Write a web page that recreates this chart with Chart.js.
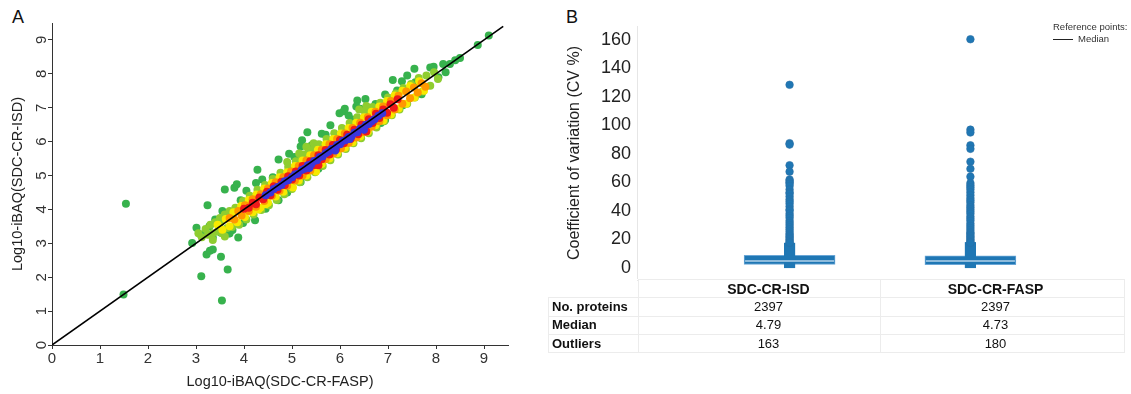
<!DOCTYPE html>
<html>
<head>
<meta charset="utf-8">
<script src="https://cdn.jsdelivr.net/npm/chart.js@4.4.1/dist/chart.umd.min.js"></script>
<style>
  html, body { margin:0; padding:0; background:#fff; }
  body { width:1131px; height:394px; position:relative; overflow:hidden; font-family:'Liberation Sans', Arial, sans-serif; color:#111; }
  #wrapA { position:absolute; left:0; top:0; width:520px; height:394px; }
  #wrapB { position:absolute; left:540px; top:0; width:591px; height:300px; }
  .panel { position:absolute; font-size:18px; color:#111; }
  #legend { position:absolute; left:1053px; top:21px; font-size:9.5px; color:#333; line-height:12px; }
  #legend .ln { display:inline-block; width:20px; height:0; border-top:1px solid #222; vertical-align:middle; margin-right:5px; }
  #tbl { position:absolute; left:548px; top:279px; border-collapse:collapse; font-size:13px; color:#111; }
  #tbl td { border:1px solid #ececec; height:17.3px; padding:0; line-height:16px; }
  #tbl td.lab { font-weight:bold; padding-left:3px; width:86px; }
  #tbl td.c0 { width:242px; text-align:center; padding-left:18px; box-sizing:border-box; }
  #tbl td.c1 { width:244px; text-align:center; padding-right:14px; box-sizing:border-box; }
  #tbl tr.hd td { font-weight:bold; font-size:14px; }
  #tbl tr.hd td.lab { border-top-color:#fff; border-left-color:#fff; }
</style>
</head>
<body>
<div class="panel" style="left:12px;top:7px;">A</div>
<div class="panel" style="left:566px;top:7px;">B</div>
<div id="wrapA"><canvas id="cA"></canvas></div>
<div id="wrapB"><canvas id="cB"></canvas></div>
<div id="legend">Reference points:<br><span class="ln"></span>Median</div>
<table id="tbl"></table>
<script>
// ---------------- Panel A data (log10 iBAQ: x = SDC-CR-FASP, y = SDC-CR-ISD) ----------------
const xTicksA = [0,1,2,3,4,5,6,7,8,9];
const yTicksA = [0,1,2,3,4,5,6,7,8,9];
const identityLine = [0, 9.4];

const blueData = [[4.45,4.42],[4.55,4.50],[4.62,4.60],[4.70,4.66],[4.78,4.72],[4.85,4.83],[4.92,4.86],[5.00,4.95],[5.06,5.03],[5.12,5.05],[5.20,5.16],[5.26,5.20],[5.33,5.30],[5.40,5.33],[5.46,5.43],[5.52,5.45],[5.58,5.55],[5.64,5.57],[5.70,5.66],[5.76,5.70],[5.82,5.78],[5.88,5.80],[5.94,5.90],[6.00,5.92],[6.06,6.02],[6.12,6.05],[6.18,6.14],[6.24,6.16],[6.30,6.26],[6.36,6.28],[6.42,6.38],[6.48,6.40],[6.54,6.50],[6.60,6.52],[6.66,6.60],[6.72,6.66],[6.80,6.76],[6.88,6.84],[5.36,5.22],[6.20,6.08],[6.50,6.35],[5.90,5.74]];

const redData = [[4.00,4.02],[4.10,4.05],[4.18,4.20],[4.25,4.15],[4.32,4.35],[4.40,4.30],[4.48,4.52],[4.55,4.42],[4.62,4.68],[4.70,4.58],[4.78,4.82],[4.85,4.72],[4.92,4.98],[5.00,4.88],[5.08,5.12],[5.15,5.00],[5.22,5.28],[5.30,5.15],[5.38,5.42],[5.45,5.30],[5.52,5.40],[5.55,5.60],[5.62,5.48],[5.70,5.75],[5.78,5.62],[5.85,5.90],[5.92,5.78],[6.00,6.05],[6.08,5.95],[6.15,6.20],[6.22,6.08],[6.30,6.35],[6.38,6.22],[6.45,6.50],[6.52,6.38],[6.60,6.66],[6.68,6.55],[6.75,6.82],[6.82,6.70],[6.90,6.95],[6.98,6.85],[7.05,7.10],[7.12,7.00],[7.20,7.25],[5.55,5.30],[6.55,6.30]];

const orangeData = [[3.70,3.75],[3.80,3.70],[3.88,3.95],[3.95,3.82],[4.02,4.12],[4.10,3.95],[4.18,4.30],[4.25,4.08],[4.35,4.45],[4.42,4.25],[4.50,4.62],[4.58,4.40],[4.66,4.80],[4.74,4.55],[4.82,4.95],[4.90,4.70],[4.98,5.12],[5.06,4.85],[5.14,5.28],[5.22,5.00],[5.30,5.44],[5.38,5.15],[5.46,5.60],[5.54,5.32],[5.62,5.76],[5.70,5.48],[5.78,5.92],[5.86,5.64],[5.94,6.08],[6.02,5.80],[6.10,6.24],[6.18,5.96],[6.26,6.40],[6.34,6.12],[6.42,6.56],[6.50,6.28],[6.58,6.72],[6.66,6.44],[6.74,6.88],[6.82,6.60],[6.90,7.04],[6.98,6.78],[7.06,7.20],[7.14,6.95],[7.22,7.35],[7.30,7.12],[7.38,7.48],[7.46,7.28],[7.54,7.60],[7.62,7.45],[7.70,7.72],[7.78,7.62]];

const yellowData = [[3.45,3.55],[3.55,3.40],[3.62,3.72],[3.70,3.50],[3.78,3.92],[3.86,3.62],[3.94,4.10],[4.02,3.78],[4.10,4.28],[4.18,3.92],[4.26,4.44],[4.34,4.05],[4.42,4.62],[4.50,4.20],[4.58,4.78],[4.66,4.38],[4.74,4.95],[4.82,4.52],[4.90,5.10],[4.98,4.68],[5.06,5.28],[5.14,4.85],[5.22,5.44],[5.30,5.00],[5.38,5.60],[5.46,5.18],[5.54,5.76],[5.62,5.34],[5.70,5.92],[5.78,5.50],[5.86,6.08],[5.94,5.66],[6.02,6.24],[6.10,5.82],[6.18,6.40],[6.26,5.98],[6.34,6.56],[6.42,6.15],[6.50,6.72],[6.58,6.30],[6.66,6.88],[6.74,6.48],[6.82,7.04],[6.90,6.62],[6.98,7.20],[7.06,6.80],[7.14,7.36],[7.22,6.98],[7.30,7.50],[7.38,7.12],[7.46,7.64],[7.55,7.30],[7.65,7.78],[7.75,7.50],[4.45,4.15],[5.02,4.65],[5.50,5.12],[4.30,4.00]];

const lightGreenData = [[3.05,3.30],[3.12,3.18],[3.20,3.42],[3.25,3.25],[3.30,3.55],[3.35,3.30],[3.40,3.62],[3.45,3.35],[3.50,3.75],[3.55,3.30],[3.60,3.85],[3.65,3.45],[3.70,3.95],[3.75,3.48],[3.82,4.05],[3.90,3.55],[3.98,4.25],[4.05,3.70],[4.12,4.40],[4.20,3.85],[4.28,4.58],[4.36,3.98],[4.44,4.72],[4.52,4.12],[4.60,4.90],[4.68,4.28],[4.76,5.08],[4.84,4.45],[4.92,5.25],[5.00,4.60],[5.08,5.42],[5.16,4.80],[5.24,5.62],[5.32,4.95],[5.40,5.75],[5.48,5.10],[5.56,5.92],[5.64,5.28],[5.72,6.08],[5.80,5.45],[5.88,6.25],[5.96,5.62],[6.04,6.40],[6.12,5.78],[6.20,6.55],[6.28,5.95],[6.36,6.72],[6.44,6.10],[6.52,6.88],[6.60,6.25],[6.68,7.02],[6.76,6.42],[6.84,7.15],[6.92,6.60],[7.00,7.30],[7.08,6.78],[7.16,7.42],[7.24,6.95],[7.32,7.58],[7.40,7.12],[7.48,7.70],[7.56,7.30],[7.64,7.88],[7.72,7.48],[7.80,7.95],[7.88,7.65],[7.96,8.05],[8.04,7.85],[5.15,5.65],[5.30,5.85],[5.45,5.95],[5.20,5.50],[5.35,5.70],[4.90,5.40],[3.35,3.10],[3.50,3.60],[3.60,3.20],[6.40,6.95],[6.55,7.05]];

const greenData = [[1.49,1.49],[1.54,4.17],[2.92,3.01],[3.01,3.46],[3.11,2.03],[3.24,4.12],[3.22,2.67],[3.29,2.78],[3.35,2.82],[3.52,2.60],[3.54,1.31],[3.66,2.23],[3.88,3.17],[3.60,4.59],[3.80,4.64],[3.85,4.74],[3.93,4.27],[4.25,4.78],[4.28,5.17],[4.38,4.88],[4.23,3.68],[4.45,4.02],[4.72,5.47],[4.94,5.64],[4.72,4.27],[5.18,4.81],[5.32,6.28],[5.21,6.04],[5.18,5.86],[5.41,5.89],[5.62,6.23],[5.80,6.48],[5.99,6.84],[6.08,6.90],[6.10,6.97],[6.18,6.77],[6.36,7.21],[6.53,7.26],[6.34,7.04],[6.42,6.97],[6.58,6.97],[6.74,7.11],[6.94,7.39],[7.10,7.82],[7.19,7.51],[7.29,7.78],[7.55,8.15],[7.57,7.75],[6.94,6.64],[7.31,7.07],[7.88,8.19],[7.95,8.21],[8.15,8.29],[8.29,8.29],[8.05,7.90],[8.50,8.47],[8.87,8.85],[9.10,9.13],[3.40,3.70],[3.20,3.35],[3.70,3.30],[3.55,3.95],[4.05,4.55],[3.98,3.60],[4.60,4.95],[4.90,4.50],[5.05,5.55],[5.55,5.20],[5.70,6.20],[6.25,6.65],[6.85,6.55],[7.40,7.95],[7.70,7.40],[8.20,8.05],[8.40,8.40],[3.10,3.25],[3.28,3.50],[3.52,3.31],[3.69,3.29],[3.76,3.39],[3.35,3.17]];

// ---------------- Panel B data (CV %) ----------------
const categoriesB = ['SDC-CR-ISD', 'SDC-CR-FASP'];
const yTicksB = [0,20,40,60,80,100,120,140,160];
const boxQ1 = [2.3, 2.1];
const boxQ3 = [8.8, 8.3];
const whiskerLow = [0, 0];
const whiskerHigh = [17.3, 17.8];
const medians = [4.79, 4.73];
const outliersISD = [128.5,87.5,86.5,72,67.5,62,61,60,59,57.5,55,53,52,50,48,46.5,45,43,41,40,38,36.5,35,33,31.5,30,28.5,27,25.5,24,23,22,21,20,19,18,17.5];
const outliersFASP = [160.5,97,95,86,83.5,74.5,69.5,64,59.5,58,56.5,55,53,51,49,47.5,46,44,42.5,41,39.5,38,36,34.5,33,31,29.5,28,26.5,25,24,23,22,21,20,19,18,17.5];
const proteinCounts = [2397, 2397];
const medianLabels = ['4.79', '4.73'];
const outlierCounts = [163, 180];

// ---------------- common ----------------
Chart.defaults.font.family = "'Liberation Sans', Arial, sans-serif";
Chart.defaults.color = '#222';
const toPts = arr => arr.map(p => ({x: p[0], y: p[1]}));

function densitySet(label, arr, color) {
  return { type:'scatter', label, data: toPts(arr), backgroundColor: color, borderWidth: 0, pointRadius: 4, pointHoverRadius: 4 };
}

// ---------------- Chart A ----------------
new Chart(document.getElementById('cA'), {
  type: 'scatter',
  data: {
    datasets: [
      { type:'line', label:'identity', data: identityLine.map(v => ({x:v, y:v})), borderColor:'#000', borderWidth:1.6, pointRadius:0, fill:false },
      densitySet('blue', blueData, '#3a36dc'),
      densitySet('red', redData, '#ee1a1a'),
      densitySet('orange', orangeData, '#ff9800'),
      densitySet('yellow', yellowData, '#f7ea00'),
      densitySet('lightgreen', lightGreenData, '#8fcd30'),
      densitySet('green', greenData, '#37b24d')
    ]
  },
  options: {
    responsive: true, maintainAspectRatio: false, animation: false,
    layout: { padding: { left: 0, top: 23, right: 12, bottom: 0 } },
    plugins: { legend: { display:false }, tooltip: { enabled:false } },
    scales: {
      x: {
        type:'linear', min:0, max:9.5,
        afterBuildTicks: s => { s.ticks = xTicksA.map(v => ({value:v})); },
        afterFit: s => { s.height = 49; },
        grid: { drawOnChartArea:false, drawTicks:true, tickLength:4, color:'#333' },
        border: { display:true, color:'#333', width:1 },
        ticks: { font:{ size:15 }, color:'#333', padding:1, maxRotation:0 },
        title: { display:true, text:'Log10-iBAQ(SDC-CR-FASP)', font:{ size:14.5 }, color:'#222', padding:{ top:0, bottom:3 } }
      },
      y: {
        type:'linear', min:0, max:9.5,
        afterBuildTicks: s => { s.ticks = yTicksA.map(v => ({value:v})); },
        afterFit: s => { s.width = 52; },
        grid: { drawOnChartArea:false, drawTicks:true, tickLength:4, color:'#333' },
        border: { display:true, color:'#333', width:1 },
        ticks: { font:{ size:15 }, color:'#333', padding:2, minRotation:90, maxRotation:90, crossAlign:'center' },
        title: { display:true, text:'Log10-iBAQ(SDC-CR-ISD)', font:{ size:14.5 }, color:'#222', padding:{ top:9, bottom:0 } }
      }
    }
  }
});

// ---------------- Chart B ----------------
const medianPlugin = {
  id: 'medianLine',
  afterDatasetsDraw(chart) {
    const meta = chart.getDatasetMeta(2);
    const ys = chart.scales.y;
    const ctx = chart.ctx;
    ctx.save();
    ctx.strokeStyle = '#b3d2ea';
    ctx.lineWidth = 1.4;
    meta.data.forEach((bar, i) => {
      const y = ys.getPixelForValue(medians[i]);
      const half = bar.width / 2;
      ctx.beginPath();
      ctx.moveTo(bar.x - half + 1, y);
      ctx.lineTo(bar.x + half - 1, y);
      ctx.stroke();
    });
    ctx.restore();
  }
};

const outlierPts = [];
outliersISD.forEach(v => outlierPts.push({x:0, y:v}));
outliersFASP.forEach(v => outlierPts.push({x:1, y:v}));

new Chart(document.getElementById('cB'), {
  type: 'bar',
  data: {
    datasets: [
      { type:'scatter', label:'outliers', data: outlierPts, backgroundColor:'#1f77b4', borderColor:'#2a6fa5', borderWidth:0.6, pointRadius:3.8, pointHoverRadius:3.8 },
      { type:'bar', label:'whisker', data: categoriesB.map((c,i) => ({x:i, y:[whiskerLow[i], whiskerHigh[i]]})), backgroundColor:'#1f77b4', borderWidth:0, barThickness:10.5, grouped:false, borderSkipped:false },
      { type:'bar', label:'box', data: categoriesB.map((c,i) => ({x:i, y:[boxQ1[i], boxQ3[i]]})), backgroundColor:'#1f77b4', borderColor:'#6aa6d6', borderWidth:1, barThickness:91, grouped:false, borderSkipped:false }
    ]
  },
  plugins: [medianPlugin],
  options: {
    responsive: true, maintainAspectRatio: false, animation: false,
    layout: { padding: { left: 0, top: 26, right: 8, bottom: 20 } },
    plugins: { legend: { display:false }, tooltip: { enabled:false } },
    scales: {
      x: { type:'linear', min:-0.575, max:1.575, display:false },
      y: {
        type:'linear', min:-8.6, max:169.8,
        afterBuildTicks: s => { s.ticks = yTicksB.map(v => ({value:v})); },
        afterFit: s => { s.width = 97; },
        grid: { display:false, drawTicks:false },
        border: { display:true, color:'#e6e6e6', width:1 },
        ticks: { font:{ size:18 }, color:'#222', padding:6 },
        title: { display:true, text:'Coefficient of variation (CV %)', font:{ size:16 }, color:'#222', padding:{ top:25, bottom:0 } }
      }
    }
  }
});

// ---------------- Table under panel B ----------------
const tbl = document.getElementById('tbl');
function addRow(cls, label, vals) {
  const tr = document.createElement('tr');
  if (cls) tr.className = cls;
  const td0 = document.createElement('td'); td0.className = 'lab'; td0.textContent = label; tr.appendChild(td0);
  vals.forEach((v, i) => { const td = document.createElement('td'); td.className = 'c' + i; td.textContent = v; tr.appendChild(td); });
  tbl.appendChild(tr);
}
addRow('hd', '', categoriesB);
addRow('', 'No. proteins', proteinCounts);
addRow('', 'Median', medianLabels);
addRow('', 'Outliers', outlierCounts);
</script>
</body>
</html>
